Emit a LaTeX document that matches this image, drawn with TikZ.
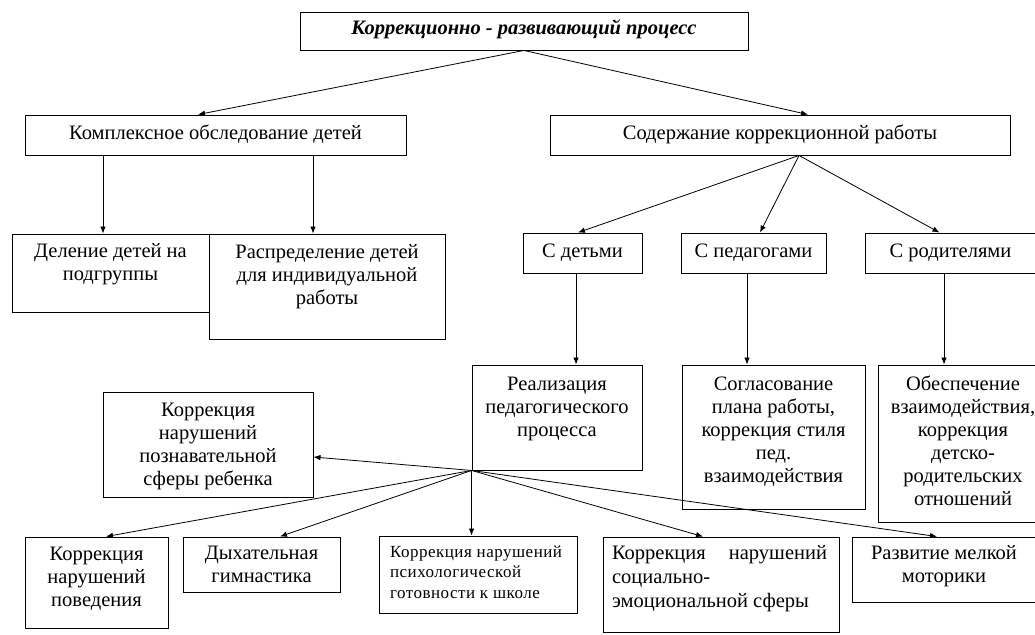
\documentclass[tikz,border=0pt]{standalone}
\usepackage{fontspec}
\setmainfont{Liberation Serif}
\newfontfamily\widefont[LetterSpace=3]{Liberation Serif}
\usetikzlibrary{arrows.meta,calc}
% box text: [alignment]{width}{height}{upward shift of text}{text}
\newcommand{\bx}[5][\centering]{\parbox[c][#3][c]{#2}{#1\strut #5\strut\par\vskip #4\relax\vskip #4\relax}}
\tikzset{
  box/.style={draw, line width=0.9pt, inner sep=0pt, fill=white, font=\fontsize{20.5}{23}\selectfont},
  arr/.style={-{Latex[length=7pt,width=5.5pt]}, line width=0.8pt},
}
\begin{document}
\begin{tikzpicture}[x=1pt,y=-1pt]
\useasboundingbox[fill=white] (0,0) rectangle (1035,634);

% level 0
\node[box] (title) at (524,31) {\bx{448pt}{38pt}{1pt}{\bfseries\itshape Коррекционно - развивающий процесс}};

% level 1
\node[box] (kom) at (215.5,135) {\bx{381pt}{40pt}{0pt}{Комплексное обследование детей}};
\node[box] (sod) at (780,135) {\bx{460pt}{40pt}{0pt}{Содержание коррекционной работы}};

% left branch
\node[box] (del) at (110.5,273) {\bx{197pt}{78pt}{8.5pt}{Деление детей на\\ подгруппы}};
\node[box] (rasp) at (327,286.5) {\bx{236pt}{105pt}{10pt}{Распределение детей\\ для индивидуальной\\ работы}};

% right branch
\node[box] (sd) at (582.5,253) {\bx{119pt}{40pt}{0pt}{С детьми}};
\node[box] (sp) at (753.5,253) {\bx{145pt}{40pt}{0pt}{С педагогами}};
\node[box] (sr) at (950.5,253) {\bx{171pt}{40pt}{0pt}{С родителями}};

\node[box] (real) at (557,417.5) {\bx{170pt}{105pt}{9pt}{Реализация\\ педагогического\\ процесса}};
\node[box] (sogl) at (773.5,437) {\bx{183pt}{144pt}{5pt}{Согласование\\ плана работы,\\ коррекция стиля\\ пед.\\ взаимодействия}};
\node[box] (obes) at (963,443.5) {\bx{170pt}{157pt}{0pt}{Обеспечение\\ взаимодействия,\\ коррекция\\ детско-\\ родительских\\ отношений}};

% bottom
\node[box] (pozn) at (208,444.5) {\bx{210pt}{105pt}{-1.5pt}{Коррекция\\ нарушений\\ познавательной\\ сферы ребенка}};
\node[box] (pov) at (96.5,582.5) {\bx{143pt}{91pt}{3.5pt}{Коррекция\\ нарушений\\ поведения}};
\node[box] (dyh) at (261.5,564.5) {\bx{157pt}{55pt}{-2pt}{Дыхательная\\ гимнастика}};
\node[box, font=\widefont\fontsize{17}{20.5}\selectfont] (psy) at (478,574.5) {\bx[\raggedright\leftskip=11pt\relax]{198pt}{77pt}{1pt}{Коррекция нарушений\\ психологической\\ готовности к школе}};
\node[box, font=\fontsize{20.5}{24}\selectfont] (soc) at (721,584.5) {\bx[\raggedright\leftskip=9pt\relax]{236pt}{95pt}{5.5pt}{\makebox[215pt][s]{Коррекция нарушений}\\ социально-\\ эмоциональной сферы}};
\node[box] (razv) at (944,569.5) {\bx{184pt}{65pt}{3.5pt}{Развитие мелкой\\ моторики}};

% connectors
\draw[arr] (title.south) -- ($(kom.north)+(-17.5,0)$);
\draw[arr] (title.south) -- ($(sod.north)+(28,0)$);

\coordinate (k1) at ($(kom.south)+(-112.5,0)$);
\coordinate (k2) at ($(kom.south)+(97.5,0)$);
\draw[arr] (k1) -- (k1 |- del.north);
\draw[arr] (k2) -- (k2 |- rasp.north);

\coordinate (sodapex) at ($(sod.south)+(19,0)$);
\draw[arr] (sodapex) -- ($(sd.north)+(-4.5,0)$);
\draw[arr] (sodapex) -- ($(sp.north)+(6.5,0)$);
\draw[arr] (sodapex) -- ($(sr.north)+(-11,0)$);

\coordinate (d1) at ($(sd.south)+(-6.5,0)$);
\coordinate (d2) at ($(sp.south)+(-6.5,0)$);
\coordinate (d3) at ($(sr.south)+(-6.5,0)$);
\draw[arr] (d1) -- (d1 |- real.north);
\draw[arr] (d2) -- (d2 |- sogl.north);
\draw[arr] (d3) -- (d3 |- obes.north);

\coordinate (hub) at (real.south west);
\draw[arr] (hub) -- ($(pozn.east)+(0,12.5)$);
\draw[arr] (hub) -- ($(pov.north)+(9.5,0)$);
\draw[arr] (hub) -- ($(dyh.north)+(18.5,0)$);
\draw[arr] (hub) -- (hub |- psy.north);
\draw[arr] (hub) -- ($(soc.north)+(-18,0)$);
\draw[arr] (hub) -- ($(razv.north)+(-7,0)$);
\end{tikzpicture}
\end{document}
